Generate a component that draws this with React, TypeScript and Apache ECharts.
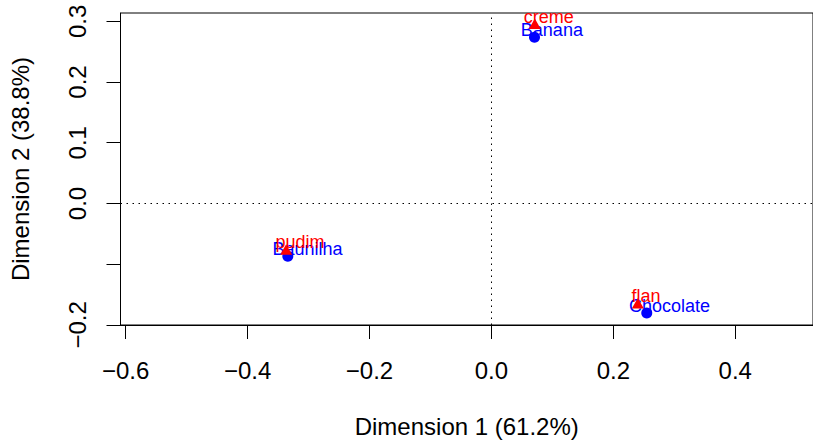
import React, { useEffect, useRef } from "react";
import * as echarts from "echarts";

// Row points (blue circles)
const rowNames = ["Banana", "Baunilha", "Chocolate"];
const rowDim1 = [0.0707, -0.334, 0.2549];
const rowDim2 = [0.2737, -0.0868, -0.1806];

// Column points (red triangles)
const colNames = ["creme", "pudim", "flan"];
const colDim1 = [0.0712, -0.3367, 0.2402];
const colDim2 = [0.2935, -0.0783, -0.1669];

// Axes
const xTicks = [-0.6, -0.4, -0.2, 0, 0.2, 0.4];
const yTicks = [-0.2, -0.1, 0, 0.1, 0.2, 0.3];
const yTickLabels = [-0.2, 0, 0.1, 0.2, 0.3];
const xRange = [-0.6085, 0.5276];
const yRange = [-0.2002, 0.3137];
const xTitle = "Dimension 1 (61.2%)";
const yTitle = "Dimension 2 (38.8%)";

const FONT = "'Liberation Sans', Arial, Helvetica, sans-serif";

const fmt = (v: number) => (v < -1e-9 ? "\u2212" : "") + Math.abs(v).toFixed(1);

function textWidth(s: string, size: number): number {
  const c = document.createElement("canvas").getContext("2d");
  if (!c) return s.length * size * 0.5;
  c.font = `${size}px 'Liberation Sans', Arial, sans-serif`;
  return c.measureText(s).width;
}

export default function App() {
  const ref = useRef<HTMLDivElement>(null);
  useEffect(() => {
    if (!ref.current) return;
    const chart = echarts.init(ref.current, null, { renderer: "svg" });
    const labelSize = 18;
    const mkData = (names: string[], xs: number[], ys: number[]) =>
      names.map((n, i) => ({
        name: n,
        value: [xs[i], ys[i]],
        label: { offset: [0.28 * textWidth(n, labelSize), -7] },
      }));
    const axisCommon = {
      axisLine: { show: true, onZero: false, lineStyle: { color: "#000", width: 1 } },
      splitLine: { show: false },
      nameLocation: "middle" as const,
      nameTextStyle: { fontSize: 24, lineHeight: 24, color: "#000", fontFamily: FONT },
    };
    chart.setOption({
      animation: false,
      backgroundColor: "#fff",
      grid: {
        left: 120.3,
        top: 13,
        right: -2,
        bottom: 115,
        show: true,
        borderColor: "#000",
        borderWidth: 1,
        backgroundColor: "transparent",
      },
      xAxis: {
        type: "value",
        min: xRange[0],
        max: xRange[1],
        ...axisCommon,
        name: xTitle,
        nameGap: 89,
        axisTick: { show: true, length: 14, customValues: xTicks, lineStyle: { color: "#000", width: 1 } },
        axisLabel: {
          customValues: xTicks,
          formatter: (v: number) => fmt(v),
          fontSize: 24,
          lineHeight: 24,
          color: "#000",
          fontFamily: FONT,
          margin: 33,
        },
      },
      yAxis: {
        type: "value",
        min: yRange[0],
        max: yRange[1],
        ...axisCommon,
        name: yTitle,
        nameGap: 88.5,
        axisTick: { show: true, length: 14, customValues: yTicks, lineStyle: { color: "#000", width: 1 } },
        axisLabel: {
          customValues: yTickLabels,
          formatter: (v: number) => fmt(v),
          rotate: 90,
          fontSize: 24,
          lineHeight: 24,
          color: "#000",
          fontFamily: FONT,
          margin: 31,
        },
      },
      series: [
        {
          type: "scatter",
          name: "rows",
          symbol: "circle",
          symbolSize: 11,
          itemStyle: { color: "#0000FF", opacity: 1 },
          data: mkData(rowNames, rowDim1, rowDim2),
          label: {
            show: true,
            position: "inside",
            formatter: (p: any) => p.name,
            color: "#0000FF",
            opacity: 1,
            fontSize: labelSize,
            fontFamily: FONT,
          },
          emphasis: { disabled: true },
          markLine: {
            silent: true,
            symbol: ["none", "none"],
            label: { show: false },
            lineStyle: { color: "#000", type: [1.5, 4.5], width: 1, opacity: 1 },
            data: [{ xAxis: 0 }, { yAxis: 0 }],
          },
          z: 3,
        },
        {
          type: "scatter",
          name: "cols",
          symbol: "triangle",
          symbolSize: [12, 10.5],
          symbolOffset: [0, -1.6],
          itemStyle: { color: "#FF0000", opacity: 1 },
          data: mkData(colNames, colDim1, colDim2),
          label: {
            show: true,
            position: "inside",
            formatter: (p: any) => p.name,
            color: "#FF0000",
            opacity: 1,
            fontSize: labelSize,
            fontFamily: FONT,
          },
          emphasis: { disabled: true },
          z: 4,
        },
      ],
    });
    return () => chart.dispose();
  }, []);
  return (
    <div
      ref={ref}
      style={{ position: "absolute", left: 0, top: 0, width: 813, height: 443 }}
    />
  );
}
